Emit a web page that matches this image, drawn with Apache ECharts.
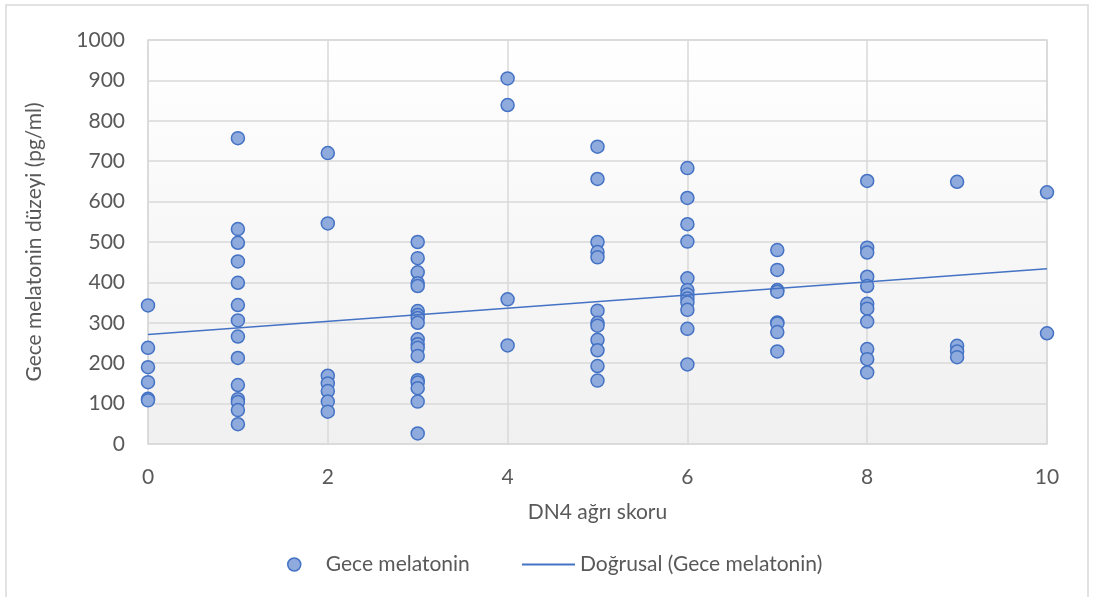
<!DOCTYPE html>
<html>
<head>
<meta charset="utf-8">
<script src="https://cdn.jsdelivr.net/npm/echarts@6/dist/echarts.min.js"></script>
<style>
  html, body { margin: 0; padding: 0; background: #fff; }
  #chart { width: 1093px; height: 597px; }
</style>
</head>
<body>
<div id="chart"></div>
<script>
// DN4 score -> night melatonin values (pg/ml)
const dn4_0 = [343, 238, 190, 153, 112, 108];
const dn4_1 = [757, 532, 498, 452, 399, 344, 306, 266, 213, 146, 111, 104, 84, 49];
const dn4_2 = [720, 546, 169, 150, 131, 105, 80];
const dn4_3 = [500, 460, 425, 398, 391, 329, 319, 312, 300, 259, 247, 238, 218, 158, 152, 138, 105, 26];
const dn4_4 = [905, 839, 358, 244];
const dn4_5 = [736, 656, 500, 475, 462, 330, 300, 293, 258, 232, 193, 157];
const dn4_6 = [683, 609, 544, 501, 410, 381, 370, 360, 350, 332, 285, 197];
const dn4_7 = [480, 431, 381, 377, 301, 298, 277, 229];
const dn4_8 = [651, 486, 474, 414, 391, 347, 335, 303, 235, 210, 177];
const dn4_9 = [649, 243, 229, 215];
const dn4_10 = [623, 274];

const groups = [dn4_0, dn4_1, dn4_2, dn4_3, dn4_4, dn4_5, dn4_6, dn4_7, dn4_8, dn4_9, dn4_10];

// linear trendline ends as seen on the chart
const trendX = [0, 10];
const trendY = [271, 434];

const points = [];
groups.forEach((vals, score) => {
  vals.forEach(v => points.push([score, v]));
});

const font = 'Lato, "Open Sans", sans-serif';
const grey = '#595959';
const fs = 21;

const chart = echarts.init(document.getElementById('chart'));
chart.setOption({
  animation: false,
  backgroundColor: '#fff',
  textStyle: { fontFamily: font },
  graphic: [{
    type: 'rect',
    shape: { x: 6, y: 5, width: 1082, height: 600 },
    style: { fill: 'none', stroke: '#d9d9d9', lineWidth: 1.5 },
    silent: true
  }],
  grid: {
    left: 148, right: 46, top: 40, bottom: 153,
    show: true,
    borderColor: '#d9d9d9',
    borderWidth: 1.5,
    backgroundColor: new echarts.graphic.LinearGradient(0, 0, 0, 1, [
      { offset: 0, color: '#ffffff' },
      { offset: 1, color: '#f0f0f0' }
    ])
  },
  xAxis: {
    type: 'value',
    min: 0, max: 10, interval: 2,
    name: 'DN4 ağrı skoru',
    nameLocation: 'middle',
    nameGap: 58,
    nameTextStyle: { fontSize: fs, color: grey, fontFamily: font },
    axisLine: { show: false },
    axisTick: { show: false },
    axisLabel: { fontSize: fs, color: grey, margin: 23, fontFamily: font },
    splitLine: { show: true, lineStyle: { color: '#d9d9d9', width: 1.5 } }
  },
  yAxis: {
    type: 'value',
    min: 0, max: 1000, interval: 100,
    name: 'Gece melatonin düzeyi (pg/ml)',
    nameLocation: 'middle',
    nameGap: 103,
    nameRotate: 90,
    nameTextStyle: { fontSize: fs, color: grey, fontFamily: font },
    axisLine: { show: false },
    axisTick: { show: false },
    axisLabel: { fontSize: fs, color: grey, margin: 23, fontFamily: font, formatter: v => String(v) },
    splitLine: { show: true, lineStyle: { color: '#d9d9d9', width: 1.5 } }
  },
  legend: [
    {
      left: 287,
      top: 554,
      padding: 0,
      itemWidth: 13,
      itemHeight: 13,
      textStyle: { fontSize: fs, color: grey, fontFamily: font, padding: [0, 0, 0, 20] },
      data: [
        { name: 'Gece melatonin', icon: 'circle', itemStyle: { color: '#8faadc', borderColor: '#4472c4', borderWidth: 1.5 } }
      ]
    },
    {
      left: 522,
      top: 554,
      padding: 0,
      itemWidth: 53,
      itemHeight: 2,
      textStyle: { fontSize: fs, color: grey, fontFamily: font },
      data: [
        { name: 'Doğrusal (Gece melatonin)', icon: 'rect', itemStyle: { color: '#4472c4' } }
      ]
    }
  ],
  series: [
    {
      name: 'Gece melatonin',
      type: 'scatter',
      symbol: 'circle',
      symbolSize: 13,
      itemStyle: { color: '#8faadc', borderColor: '#4472c4', borderWidth: 1.5, opacity: 1 },
      data: points,
      z: 3
    },
    {
      name: 'Doğrusal (Gece melatonin)',
      type: 'line',
      symbol: 'none',
      lineStyle: { color: '#4472c4', width: 1.5 },
      itemStyle: { color: '#4472c4' },
      data: trendX.map((x, i) => [x, trendY[i]]),
      z: 4
    }
  ]
});
</script>
</body>
</html>
